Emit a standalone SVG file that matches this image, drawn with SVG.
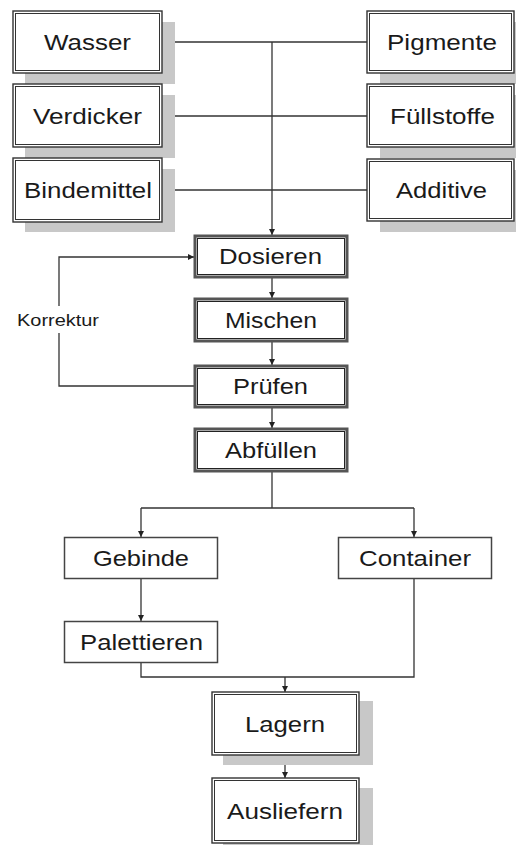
<svg xmlns="http://www.w3.org/2000/svg" width="516" height="845" viewBox="0 0 516 845">
<style>
.sh{fill:#c8c8c8;stroke:none}
.o{fill:#fff;stroke:#333;stroke-width:1.4}
.i{fill:none;stroke:#333;stroke-width:1}
.ot{fill:#fff;stroke:#555;stroke-width:3}
.it{fill:none;stroke:#222;stroke-width:1}
.s{fill:#fff;stroke:#444;stroke-width:1.5}
.t{font-family:"Liberation Sans",Arial,sans-serif;font-size:22px;fill:#1a1a1a;text-anchor:middle}
.k{font-family:"Liberation Sans",Arial,sans-serif;font-size:17px;fill:#1a1a1a;text-anchor:middle}
.c{fill:none;stroke:#333;stroke-width:1.3}
</style>
<defs>
<marker id="ah" viewBox="0 0 8 8" refX="8" refY="4" markerWidth="6" markerHeight="6" markerUnits="userSpaceOnUse" orient="auto">
<path d="M0,0 L8,4 L0,8 Z" fill="#222"/>
</marker>
</defs>
<rect width="516" height="845" fill="#fff"/>

<g id="connectors">
<path class="c" d="M162,42 H367"/>
<path class="c" d="M162,116 H367"/>
<path class="c" d="M162,190 H367"/>
<path class="c" d="M272,42 V235" marker-end="url(#ah)"/>
<path class="c" d="M272,277 V298" marker-end="url(#ah)"/>
<path class="c" d="M272,341 V365" marker-end="url(#ah)"/>
<path class="c" d="M272,407 V428" marker-end="url(#ah)"/>
<path class="c" d="M194,386 H59 V333"/>
<path class="c" d="M59,306 V257 H194" marker-end="url(#ah)"/>
<path class="c" d="M272,471 V508"/>
<path class="c" d="M141,508 H414"/>
<path class="c" d="M141,508 V537" marker-end="url(#ah)"/>
<path class="c" d="M414,508 V537" marker-end="url(#ah)"/>
<path class="c" d="M141,579 V621" marker-end="url(#ah)"/>
<path class="c" d="M141,663 V677 H414 V579"/>
<path class="c" d="M285,677 V692" marker-end="url(#ah)"/>
<path class="c" d="M285,755 V778" marker-end="url(#ah)"/>
<text class="k" x="58" y="326" textLength="82" lengthAdjust="spacingAndGlyphs">Korrektur</text>
</g>

<g id="wasser">
<rect class="sh" x="25" y="22" width="150" height="62"/>
<rect class="o" x="13" y="11" width="149" height="62"/>
<rect class="i" x="15.5" y="13.5" width="144" height="57"/>
<text class="t" x="87.5" y="50" textLength="87" lengthAdjust="spacingAndGlyphs">Wasser</text>
</g>
<g id="verdicker">
<rect class="sh" x="25" y="95" width="150" height="63"/>
<rect class="o" x="13" y="84" width="149" height="63"/>
<rect class="i" x="15.5" y="86.5" width="144" height="58"/>
<text class="t" x="87.5" y="123.5" textLength="109" lengthAdjust="spacingAndGlyphs">Verdicker</text>
</g>
<g id="bindemittel">
<rect class="sh" x="25" y="169" width="150" height="63"/>
<rect class="o" x="13" y="158" width="149" height="64"/>
<rect class="i" x="15.5" y="160.5" width="144" height="59"/>
<text class="t" x="88" y="198" textLength="128" lengthAdjust="spacingAndGlyphs">Bindemittel</text>
</g>
<g id="pigmente">
<rect class="sh" x="380" y="22" width="150" height="62"/>
<rect class="o" x="367" y="11" width="147" height="62"/>
<rect class="i" x="369.5" y="13.5" width="142" height="57"/>
<text class="t" x="442" y="50" textLength="110" lengthAdjust="spacingAndGlyphs">Pigmente</text>
</g>
<g id="fuellstoffe">
<rect class="sh" x="380" y="95" width="150" height="63"/>
<rect class="o" x="367" y="84" width="147" height="63"/>
<rect class="i" x="369.5" y="86.5" width="142" height="58"/>
<text class="t" x="442.5" y="123.5" textLength="105" lengthAdjust="spacingAndGlyphs">Füllstoffe</text>
</g>
<g id="additive">
<rect class="sh" x="380" y="170" width="150" height="62"/>
<rect class="o" x="367" y="159" width="147" height="62"/>
<rect class="i" x="369.5" y="161.5" width="142" height="57"/>
<text class="t" x="441.5" y="198" textLength="91" lengthAdjust="spacingAndGlyphs">Additive</text>
</g>

<g id="dosieren">
<rect class="ot" x="195" y="236" width="152" height="41"/>
<rect class="it" x="197.5" y="238.5" width="147" height="36"/>
<text class="t" x="270.5" y="264" textLength="103" lengthAdjust="spacingAndGlyphs">Dosieren</text>
</g>
<g id="mischen">
<rect class="ot" x="195" y="299" width="152" height="42"/>
<rect class="it" x="197.5" y="301.5" width="147" height="37"/>
<text class="t" x="271" y="328" textLength="92" lengthAdjust="spacingAndGlyphs">Mischen</text>
</g>
<g id="pruefen">
<rect class="ot" x="195" y="366" width="152" height="41"/>
<rect class="it" x="197.5" y="368.5" width="147" height="36"/>
<text class="t" x="270.5" y="394" textLength="75" lengthAdjust="spacingAndGlyphs">Prüfen</text>
</g>
<g id="abfuellen">
<rect class="ot" x="195" y="429" width="152" height="42"/>
<rect class="it" x="197.5" y="431.5" width="147" height="37"/>
<text class="t" x="271" y="458" textLength="92" lengthAdjust="spacingAndGlyphs">Abfüllen</text>
</g>

<g id="gebinde">
<rect class="s" x="64.5" y="537.5" width="153" height="41"/>
<text class="t" x="141" y="566" textLength="96" lengthAdjust="spacingAndGlyphs">Gebinde</text>
</g>
<g id="container">
<rect class="s" x="338.5" y="537.5" width="153" height="41"/>
<text class="t" x="415" y="566" textLength="112" lengthAdjust="spacingAndGlyphs">Container</text>
</g>
<g id="palettieren">
<rect class="s" x="64.5" y="621.5" width="153" height="41"/>
<text class="t" x="141.5" y="650" textLength="123" lengthAdjust="spacingAndGlyphs">Palettieren</text>
</g>

<g id="lagern">
<rect class="sh" x="223" y="701" width="150" height="64"/>
<rect class="o" x="212" y="692" width="147" height="63"/>
<rect class="i" x="214.5" y="694.5" width="142" height="58"/>
<text class="t" x="285" y="731.5" textLength="80" lengthAdjust="spacingAndGlyphs">Lagern</text>
</g>
<g id="ausliefern">
<rect class="sh" x="223" y="788" width="150" height="60"/>
<rect class="o" x="212" y="778" width="147" height="65"/>
<rect class="i" x="214.5" y="780.5" width="142" height="60"/>
<text class="t" x="285" y="818.5" textLength="116" lengthAdjust="spacingAndGlyphs">Ausliefern</text>
</g>
</svg>
